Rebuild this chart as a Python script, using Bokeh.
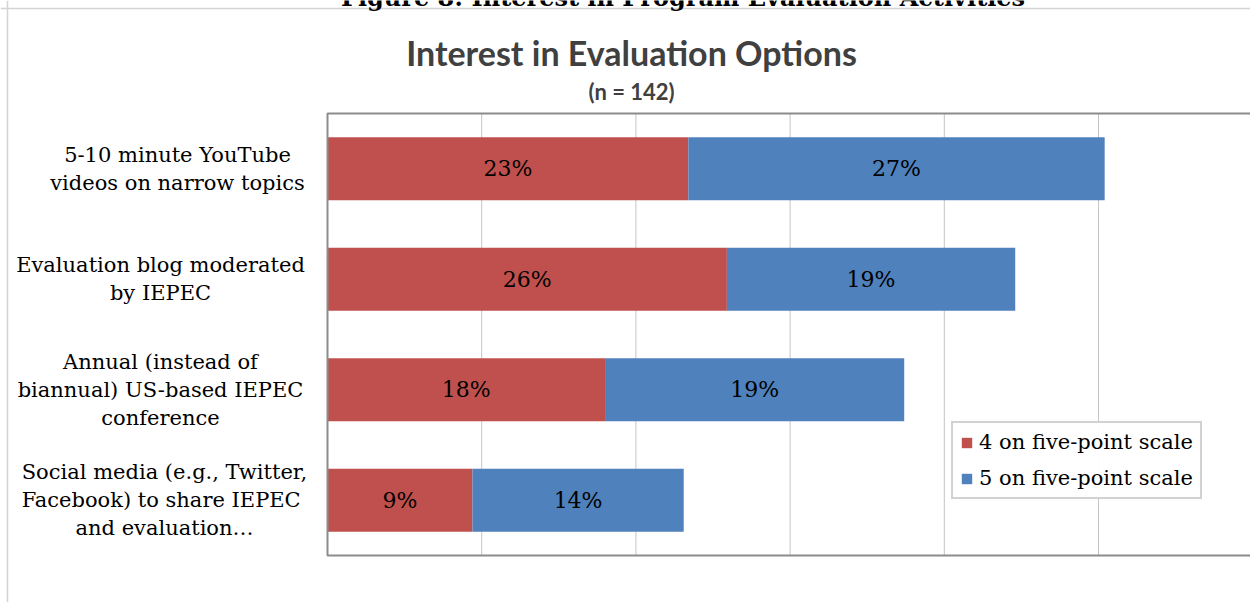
from bokeh.plotting import figure
from bokeh.models import Range1d, Span, Label, Legend, LegendItem, ColumnDataSource
from bokeh.embed import file_html
from bokeh.resources import INLINE
from bokeh.core.properties import value

# ---------------- data ----------------
categories = [
    "5-10 minute YouTube\nvideos on narrow topics",
    "Evaluation blog moderated\nby IEPEC",
    "Annual (instead of\nbiannual) US-based IEPEC\nconference",
    "Social media (e.g., Twitter,\nFacebook) to share  IEPEC\nand evaluation\u2026",
]
score4 = [23.4, 25.9, 18.0, 9.4]   # % rating 4 on five-point scale
score5 = [27.0, 18.7, 19.4, 13.7]  # % rating 5 on five-point scale
series_names = ["4 on five-point scale", "5 on five-point scale"]
figure_caption = "Figure 8: Interest in Program Evaluation Activities"
title_text = "Interest in Evaluation Options"
subtitle_text = "(n = 142)"
grid_ticks = [10, 20, 30, 40, 50]

# ---------------- layout / styles ----------------
RED = "#C0504D"
BLUE = "#4F81BD"
SERIF = "DejaVu Serif"
W, H = 1250, 602
PLOT_LEFT, PLOT_TOP, PLOT_BOTTOM = 327, 113, 555   # plot-area edges in px
PX_PER_PCT = 15.42
label_offsets = [-150, -167, -167, -163]

n = len(categories)
ROW_PX = (PLOT_BOTTOM - PLOT_TOP) / n
x_start = -PLOT_LEFT / PX_PER_PCT
x_end = (W - PLOT_LEFT) / PX_PER_PCT
y_start = -(H - PLOT_BOTTOM) / ROW_PX
y_end = n + PLOT_TOP / ROW_PX

ys = [n - i - 0.5 for i in range(n)]
tot = [a + b for a, b in zip(score4, score5)]
src = ColumnDataSource(dict(
    y=ys, s4=score4, tot=tot,
    mid4=[a / 2 for a in score4],
    mid5=[a + b / 2 for a, b in zip(score4, score5)],
    lab4=[f"{round(v)}%" for v in score4],
    lab5=[f"{round(v)}%" for v in score5],
))

p = figure(width=W, height=H, x_range=Range1d(x_start, x_end), y_range=Range1d(y_start, y_end),
           output_backend="svg", toolbar_location=None,
           min_border_left=0, min_border_right=0, min_border_top=0, min_border_bottom=0)
p.xaxis.visible = False
p.yaxis.visible = False
p.xgrid.visible = False
p.ygrid.visible = False
p.outline_line_color = None
p.background_fill_color = "white"
p.border_fill_color = "white"

# outer chart border (left / top)
p.add_layout(Span(location=x_start + 7 / PX_PER_PCT, dimension="height",
                  line_color="#d4d4d4", line_width=1.5))
p.add_layout(Span(location=y_end - 8 / ROW_PX, dimension="width",
                  line_color="#d4d4d4", line_width=1.5))

# vertical gridlines inside the plot area
p.segment(x0=grid_ticks, y0=0, x1=grid_ticks, y1=n, line_color="#c4c4c4", line_width=1)

r1 = p.hbar(y="y", left=0, right="s4", height=0.57, fill_color=RED, line_color=None, source=src)
r2 = p.hbar(y="y", left="s4", right="tot", height=0.57, fill_color=BLUE, line_color=None, source=src)

# plot-area border (right edge lies beyond the page)
p.quad(left=0, right=x_end + 1, bottom=0, top=n, fill_color=None,
       line_color="#8c8c8c", line_width=2)

for col_x, col_t in (("mid4", "lab4"), ("mid5", "lab5")):
    p.text(x=col_x, y="y", text=col_t, source=src, text_font=value(SERIF),
           text_font_size="22px", text_align="center", text_baseline="middle",
           text_color="black")

# category labels
for i, cat in enumerate(categories):
    p.add_layout(Label(x=0, y=ys[i], x_offset=label_offsets[i], text=cat,
                       text_align="center", text_baseline="middle",
                       text_font=SERIF, text_font_size="21px", text_line_height=1.17,
                       text_color="black"))

# titles
p.add_layout(Label(x=0, y=n, x_offset=355.5, y_offset=116.5, text=figure_caption,
                   text_font=SERIF, text_font_style="bold", text_font_size="24px",
                   text_color="black", text_align="center", text_baseline="alphabetic"))
p.add_layout(Label(x=0, y=n, x_offset=304, y_offset=61, text=title_text,
                   text_font="Lato", text_font_style="bold", text_font_size="34px",
                   text_color="#404040", text_align="center", text_baseline="middle"))
p.add_layout(Label(x=0, y=n, x_offset=304, y_offset=22, text=subtitle_text,
                   text_font="Lato", text_font_style="bold", text_font_size="22px",
                   text_color="#404040", text_align="center", text_baseline="middle"))

legend = Legend(items=[LegendItem(label=series_names[0], renderers=[r1]),
                       LegendItem(label=series_names[1], renderers=[r2])],
                location=(951, 103), label_text_font=SERIF, label_text_font_size="21px",
                label_text_color="black",
                glyph_width=13, glyph_height=13, label_standoff=6, padding=7, spacing=12,
                label_height=24, border_line_color="#a6a6a6", border_line_width=2,
                background_fill_color="white", margin=0)
p.add_layout(legend)

open("out.html", "w").write(file_html(p, INLINE))
